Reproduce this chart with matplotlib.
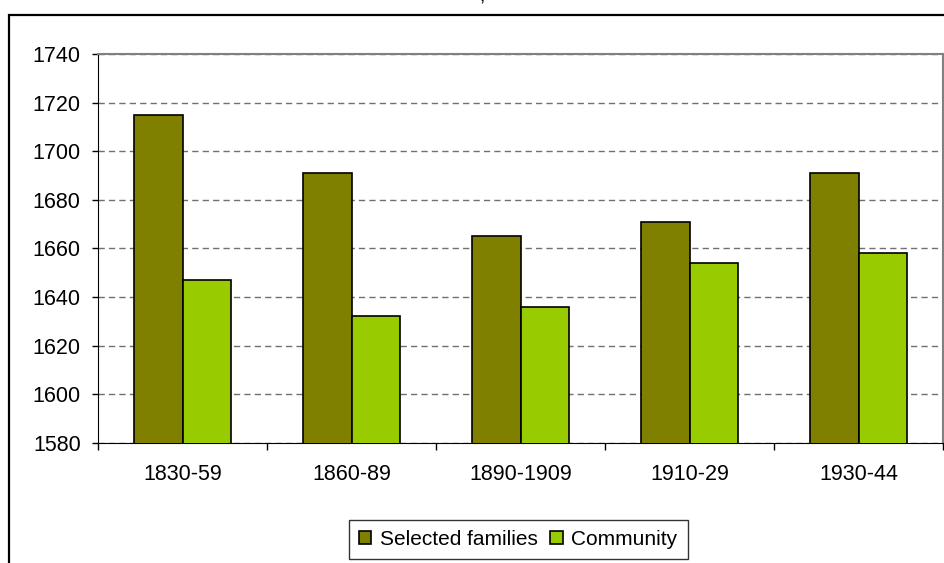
import numpy as np
import matplotlib.pyplot as plt
from matplotlib.patches import Rectangle

plt.rcParams['font.family'] = ['Liberation Sans', 'DejaVu Sans']

# data
periods = ['1830-59', '1860-89', '1890-1909', '1910-29', '1930-44']
selected_families = [1715, 1691, 1665, 1671, 1691]
community = [1647, 1632, 1636, 1654, 1658]
y_ticks = [1580, 1600, 1620, 1640, 1660, 1680, 1700, 1720, 1740]

W, H = 945, 563
fig = plt.figure(figsize=(W / 100, H / 100), dpi=100)

# outer chart frame (cropped on the right and bottom)
fig.patches.append(Rectangle((9.5 / W, -0.1), 2, 1 - 14.5 / H + 0.1,
                             transform=fig.transFigure, fill=False,
                             edgecolor='black', linewidth=1.6))
# tail of the cropped title
fig.text(482 / W, 1 - 1.5 / H, ',', ha='center', va='baseline', fontsize=14)

ax = fig.add_axes([98 / W, 1 - 442.7 / H, (943 - 98) / W, (442.7 - 54.3) / H])

x = np.arange(len(periods))
w = 0.287
ax.bar(x - w / 2, selected_families, w, color='#808000', edgecolor='black',
       linewidth=1.2, label='Selected families', zorder=3)
ax.bar(x + w / 2, community, w, color='#99CC00', edgecolor='black',
       linewidth=1.2, label='Community', zorder=3)

ax.set_ylim(1580, 1740)
ax.set_xlim(-0.5, len(periods) - 0.5)
ax.set_yticks(y_ticks)
ax.set_xticks(x)
ax.set_xticklabels(periods)
ax.set_xticks(np.arange(len(periods) + 1) - 0.5, minor=True)
ax.tick_params(axis='x', which='major', length=0, pad=15, labelsize=15.5)
ax.tick_params(axis='x', which='minor', length=5, width=1, direction='out')
ax.tick_params(axis='y', length=4.5, width=1, pad=8, labelsize=15.5)

ax.yaxis.grid(True, color='#707070', linestyle=(0, (4.5, 3)), linewidth=1, zorder=0)
ax.set_axisbelow(True)

for s in ['top', 'right']:
    ax.spines[s].set_color('#808080')
    ax.spines[s].set_linewidth(1.5)
ax.spines['left'].set_color('black')
ax.spines['bottom'].set_color('black')

leg = fig.legend(loc='center', bbox_to_anchor=(518 / W, 1 - 539.5 / H),
                 ncol=2, fontsize=15, frameon=True, fancybox=False,
                 handlelength=0.6, handleheight=0.6, handletextpad=0.4,
                 columnspacing=0.6, borderpad=0.5, edgecolor='black')
leg.get_frame().set_linewidth(1)

fig.savefig('out.png', dpi=100)
